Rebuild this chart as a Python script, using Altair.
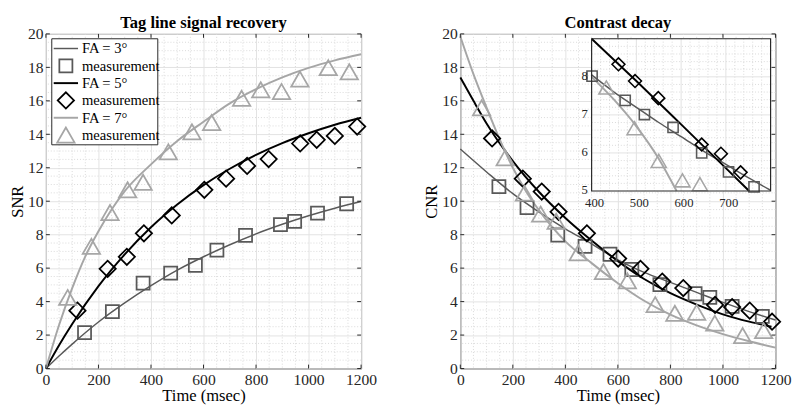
import altair as alt
import pandas as pd

# ---------------- data ----------------
# Left panel "Tag line signal recovery": fitted curves
snr3_t = [0, 50, 100, 200, 300, 400, 500, 600, 700, 800, 900, 1000, 1100, 1200]
snr3_v = [0, 0.75, 1.46, 2.78, 3.92, 4.95, 5.88, 6.68, 7.40, 8.05, 8.62, 9.13, 9.58, 9.98]
snr5_t = [0, 50, 100, 200, 300, 400, 500, 600, 700, 800, 900, 1000, 1100, 1200]
snr5_v = [0, 1.39, 2.66, 4.92, 6.82, 8.44, 9.80, 10.96, 11.94, 12.77, 13.47, 14.06, 14.57, 14.99]
snr7_t = [0, 50, 100, 150, 200, 250, 300, 400, 500, 600, 700, 800, 900, 1000, 1100, 1200]
snr7_v = [0, 2.6, 4.8, 6.7, 8.2, 9.5, 10.6, 12.2, 13.6, 14.75, 15.85, 16.7, 17.4, 17.97, 18.42, 18.78]
# Left panel measurements
snr3_mt = [147, 253, 370, 475, 569, 651, 760, 893, 947, 1034, 1145]
snr3_mv = [2.15, 3.4, 5.1, 5.7, 6.17, 7.08, 7.96, 8.6, 8.8, 9.29, 9.85]
snr5_mt = [120, 235, 308, 373, 479, 603, 686, 766, 848, 968, 1031, 1100, 1185]
snr5_mv = [3.46, 5.96, 6.68, 8.08, 9.15, 10.68, 11.35, 12.11, 12.52, 13.45, 13.67, 13.9, 14.46]
snr7_mt = [83, 173, 244, 311, 370, 466, 556, 631, 745, 818, 897, 967, 1075, 1155]
snr7_mv = [4.25, 7.3, 9.32, 10.68, 11.13, 12.95, 14.15, 14.7, 16.15, 16.66, 16.56, 17.3, 17.98, 17.74]

# Right panel "Contrast decay": fitted curves
cnr3_t = [0, 100, 200, 300, 400, 500, 600, 700, 800, 900, 1000, 1100, 1200]
cnr3_v = [13.12, 11.75, 10.45, 9.35, 8.35, 7.45, 6.5, 5.75, 5.15, 4.55, 3.95, 3.4, 2.9]
cnr5_t = [0, 50, 100, 200, 300, 400, 500, 600, 700, 800, 900, 1000, 1100, 1185]
cnr5_v = [17.4, 16.0, 14.65, 12.4, 10.55, 9.0, 7.65, 6.42, 5.35, 4.5, 3.82, 3.24, 2.8, 2.5]
cnr7_t = [0, 50, 100, 150, 200, 250, 300, 400, 500, 600, 700, 800, 900, 1000, 1100, 1200]
cnr7_v = [19.85, 17.6, 15.6, 13.7, 12.0, 10.6, 9.45, 7.6, 6.3, 5.1, 4.05, 3.22, 2.58, 2.06, 1.63, 1.25]
# Right panel measurements
cnr3_mt = [147, 254, 371, 475, 570, 653, 760, 894, 950, 1035, 1150]
cnr3_mv = [10.87, 9.62, 7.98, 7.3, 6.83, 5.92, 5.02, 4.47, 4.25, 3.72, 3.12]
cnr5_mt = [121, 238, 310, 374, 482, 601, 686, 769, 849, 970, 1035, 1102, 1187]
cnr5_mv = [13.75, 11.35, 10.58, 9.37, 8.08, 6.57, 5.96, 5.2, 4.81, 3.8, 3.67, 3.46, 2.8]
cnr7_mt = [81, 171, 244, 306, 365, 449, 545, 636, 742, 817, 900, 969, 1075, 1155]
cnr7_mv = [15.58, 12.6, 10.48, 9.23, 8.8, 6.92, 5.8, 5.24, 3.82, 3.3, 3.36, 2.71, 1.97, 2.26]

# Inset (zoom of the contrast decay)
ins3_t = [400, 450, 500, 550, 600, 650, 700, 750, 800]
ins3_v = [8.05, 7.6, 7.2, 6.8, 6.43, 6.05, 5.7, 5.35, 5.02]
ins5_t = [400, 500, 600, 700, 752]
ins5_v = [9.0, 7.89, 6.75, 5.6, 5.0]
ins7_t = [400, 450, 500, 550, 590]
ins7_v = [8.0, 7.4, 6.7, 5.85, 5.0]
ins3_mt = [401, 475, 518, 582, 646, 706, 763]
ins3_mv = [8.02, 7.38, 7.01, 6.67, 6.0, 5.5, 5.11]
ins5_mt = [460, 497, 549, 646, 689, 733]
ins5_mv = [8.33, 7.89, 7.44, 6.22, 5.98, 5.49]
ins7_mt = [433, 496, 550, 603, 642]
ins7_mv = [7.72, 6.65, 5.79, 5.28, 5.18]

# legend entries
legend_labels = ["FA = 3°", "measurement", "FA = 5°", "measurement", "FA = 7°", "measurement"]

# axis ticks
x_major = [0, 200, 400, 600, 800, 1000, 1200]
y_major = [0, 2, 4, 6, 8, 10, 12, 14, 16, 18, 20]
x_minor = [v for v in range(0, 1201, 50) if v % 200]
y_minor = [v / 2 for v in range(0, 41) if v % 4]
x_lim = [0, 1200]
y_lim = [0, 20]
ins_xlim = [400, 800]
ins_ylim = [5, 9]
ins_xlabels = [400, 500, 600, 700]
ins_ylabels = [5, 6, 7, 8]
ins_xgrid = [500, 600, 700]
ins_ygrid = [6, 7, 8]
ins_xminor = [v for v in range(420, 800, 20) if v % 100]
ins_yminor = [v / 5 for v in range(26, 45) if v % 5]

# ---------------- styles ----------------
FONT = "Liberation Serif"
W, H = 324, 344
AX = "#262626"
GRID = "#e2e2e2"
MINOR = "#d9d9d9"
C3, C5, C7 = "#595959", "#000000", "#a6a6a6"
# color, marker shape, marker size (main), marker size (inset), line width
STY = [
    (C3, "square", 180, 110, 1.5),
    (C5, "diamond", 280, 175, 2.0),
    (C7, "triangle-up", 320, 240, 2.0),
]


def main_scales():
    return (alt.Scale(domain=x_lim, nice=False, zero=False),
            alt.Scale(domain=y_lim, nice=False, zero=False))


def panel(curves, pts, title, ytitle, extra=()):
    xs, ys = main_scales()
    xaxis = alt.Axis(values=x_major, title="Time (msec)", grid=True, labelFlush=False, format="d")
    yaxis = alt.Axis(values=y_major, title=ytitle, grid=True, labelFlush=False, format="d")

    layers = []
    # axes + major grid carried by an invisible layer
    layers.append(alt.Chart(pd.DataFrame({"x": x_lim, "y": y_lim})).mark_point(opacity=0, size=1).encode(
        x=alt.X("x:Q", scale=xs, axis=xaxis), y=alt.Y("y:Q", scale=ys, axis=yaxis)))
    layers.append(alt.Chart(pd.DataFrame({"x": x_minor})).mark_rule(
        color=MINOR, strokeDash=[1, 2], strokeWidth=1
    ).encode(x=alt.X("x:Q", scale=xs, axis=None)))
    layers.append(alt.Chart(pd.DataFrame({"y": y_minor})).mark_rule(
        color=MINOR, strokeDash=[1, 2], strokeWidth=1
    ).encode(y=alt.Y("y:Q", scale=ys, axis=None)))

    for (ts, vs), (col, shp, sz, isz, lw) in zip(curves, STY):
        layers.append(alt.Chart(pd.DataFrame({"t": ts, "v": vs})).mark_line(
            interpolate="monotone", color=col, strokeWidth=lw).encode(
            x=alt.X("t:Q", scale=xs, axis=None), y=alt.Y("v:Q", scale=ys, axis=None)))
    for (ts, vs), (col, shp, sz, isz, lw) in zip(pts, STY):
        layers.append(alt.Chart(pd.DataFrame({"t": ts, "v": vs})).mark_point(
            shape=shp, size=sz, color=col, filled=False, strokeWidth=1.8, opacity=1).encode(
            x=alt.X("t:Q", scale=xs, axis=None), y=alt.Y("v:Q", scale=ys, axis=None)))

    xt = pd.DataFrame({"x": x_major})
    yt = pd.DataFrame({"y": y_major})
    layers += [
        alt.Chart(xt).mark_rule(color=AX).encode(
            x=alt.X("x:Q", scale=xs, axis=None), y=alt.value(H), y2=alt.value(H - 4)),
        alt.Chart(xt).mark_rule(color=AX).encode(
            x=alt.X("x:Q", scale=xs, axis=None), y=alt.value(0), y2=alt.value(4)),
        alt.Chart(yt).mark_rule(color=AX).encode(
            y=alt.Y("y:Q", scale=ys, axis=None), x=alt.value(0), x2=alt.value(4)),
        alt.Chart(yt).mark_rule(color=AX).encode(
            y=alt.Y("y:Q", scale=ys, axis=None), x=alt.value(W), x2=alt.value(W - 4)),
    ]
    layers += list(extra)
    return alt.layer(*layers).properties(
        width=W, height=H,
        title=alt.TitleParams(title, font=FONT, fontSize=17, fontWeight="bold",
                              color="black", offset=-6, anchor="middle", frame="group"),
    ).resolve_scale(x="independent", y="independent")


def legend_layers():
    bx0, bx1, by0, by1 = 6, 115, 5, 114
    ry = alt.Scale(domain=[0, 5], range=[15, 104], nice=False, zero=False)
    rows = pd.DataFrame({"row": list(range(6)), "label": legend_labels})
    out = [alt.Chart(pd.DataFrame({"label": ["box"]})).mark_rect(
        fill="white", stroke=AX, strokeWidth=1).encode(
        x=alt.value(bx0), x2=alt.value(bx1), y=alt.value(by0), y2=alt.value(by1))]
    for i, (col, shp, sz, isz, lw) in enumerate(STY):
        out.append(alt.Chart(rows.iloc[[2 * i]]).mark_rule(color=col, strokeWidth=lw).encode(
            x=alt.value(8), x2=alt.value(33), y=alt.Y("row:Q", scale=ry, axis=None)))
        out.append(alt.Chart(rows.iloc[[2 * i + 1]]).mark_point(
            shape=shp, size=sz, color=col, filled=False, strokeWidth=1.8, opacity=1).encode(
            x=alt.value(20.5), y=alt.Y("row:Q", scale=ry, axis=None)))
    out.append(alt.Chart(rows).mark_text(
        font=FONT, fontSize=15, color="black", align="left", baseline="middle").encode(
        x=alt.value(37), y=alt.Y("row:Q", scale=ry, axis=None), text="label:N"))
    return out


def inset_layers():
    ix0, ix1 = 135, 319
    iy0, iy1 = 5, 161.5
    isx = alt.Scale(domain=ins_xlim, range=[ix0, ix1], nice=False, zero=False)
    isy = alt.Scale(domain=ins_ylim, range=[iy1, iy0], nice=False, zero=False)
    out = []
    box = pd.DataFrame({"x0": [ins_xlim[0]], "x1": [ins_xlim[1]],
                        "y0": [ins_ylim[0]], "y1": [ins_ylim[1]]})
    out.append(alt.Chart(box).mark_rect(fill="white").encode(
        x=alt.X("x0:Q", scale=isx, axis=None), x2="x1:Q",
        y=alt.Y("y0:Q", scale=isy, axis=None), y2="y1:Q"))
    out.append(alt.Chart(pd.DataFrame({"x": ins_xminor})).mark_rule(
        color=MINOR, strokeDash=[1, 2]).encode(
        x=alt.X("x:Q", scale=isx, axis=None), y=alt.value(iy0), y2=alt.value(iy1)))
    out.append(alt.Chart(pd.DataFrame({"y": ins_yminor})).mark_rule(
        color=MINOR, strokeDash=[1, 2]).encode(
        y=alt.Y("y:Q", scale=isy, axis=None), x=alt.value(ix0), x2=alt.value(ix1)))
    out.append(alt.Chart(pd.DataFrame({"x": ins_xgrid})).mark_rule(color=GRID).encode(
        x=alt.X("x:Q", scale=isx, axis=None), y=alt.value(iy0), y2=alt.value(iy1)))
    out.append(alt.Chart(pd.DataFrame({"y": ins_ygrid})).mark_rule(color=GRID).encode(
        y=alt.Y("y:Q", scale=isy, axis=None), x=alt.value(ix0), x2=alt.value(ix1)))
    curves = [(ins3_t, ins3_v), (ins5_t, ins5_v), (ins7_t, ins7_v)]
    pts = [(ins3_mt, ins3_mv), (ins5_mt, ins5_mv), (ins7_mt, ins7_mv)]
    for (ts, vs), (col, shp, sz, isz, lw) in zip(curves, STY):
        out.append(alt.Chart(pd.DataFrame({"t": ts, "v": vs})).mark_line(
            interpolate="monotone", color=col, strokeWidth=lw).encode(
            x=alt.X("t:Q", scale=isx, axis=None), y=alt.Y("v:Q", scale=isy, axis=None)))
    for (ts, vs), (col, shp, sz, isz, lw) in zip(pts, STY):
        out.append(alt.Chart(pd.DataFrame({"t": ts, "v": vs})).mark_point(
            shape=shp, size=isz, color=col, filled=False, strokeWidth=1.6, opacity=1).encode(
            x=alt.X("t:Q", scale=isx, axis=None), y=alt.Y("v:Q", scale=isy, axis=None)))
    out.append(alt.Chart(box).mark_rect(fill=None, stroke=AX, strokeWidth=1.2).encode(
        x=alt.X("x0:Q", scale=isx, axis=None), x2="x1:Q",
        y=alt.Y("y0:Q", scale=isy, axis=None), y2="y1:Q"))
    out.append(alt.Chart(pd.DataFrame({"x": ins_xlabels})).mark_text(
        font=FONT, fontSize=13, color=AX, baseline="top", align="center", dx=3).encode(
        x=alt.X("x:Q", scale=isx, axis=None), y=alt.value(iy1 + 6),
        text=alt.Text("x:Q", format="d")))
    out.append(alt.Chart(pd.DataFrame({"y": ins_ylabels})).mark_text(
        font=FONT, fontSize=13, color=AX, baseline="middle", align="right", dy=-1).encode(
        y=alt.Y("y:Q", scale=isy, axis=None), x=alt.value(ix0 - 4),
        text=alt.Text("y:Q", format="d")))
    return out


left = panel(
    [(snr3_t, snr3_v), (snr5_t, snr5_v), (snr7_t, snr7_v)],
    [(snr3_mt, snr3_mv), (snr5_mt, snr5_mv), (snr7_mt, snr7_mv)],
    "Tag line signal recovery", "SNR", extra=legend_layers())
right = panel(
    [(cnr3_t, cnr3_v), (cnr5_t, cnr5_v), (cnr7_t, cnr7_v)],
    [(cnr3_mt, cnr3_mv), (cnr5_mt, cnr5_mv), (cnr7_mt, cnr7_mv)],
    "Contrast decay", "CNR", extra=inset_layers())

chart = alt.hconcat(left, right, spacing=46).properties(
    padding={"left": 0, "top": 0, "right": 0, "bottom": 0}
).configure_view(
    stroke=AX, strokeWidth=1
).configure_axis(
    labelFont=FONT, titleFont=FONT, labelFontSize=16, titleFontSize=17,
    titleFontWeight="normal", labelColor=AX, titleColor="black",
    labelPadding=3, titlePadding=1, ticks=False, domain=False,
    gridColor=GRID, gridWidth=1, labelOverlap=False,
)

chart.save("out.html", embed_options={"renderer": "svg", "actions": False})
